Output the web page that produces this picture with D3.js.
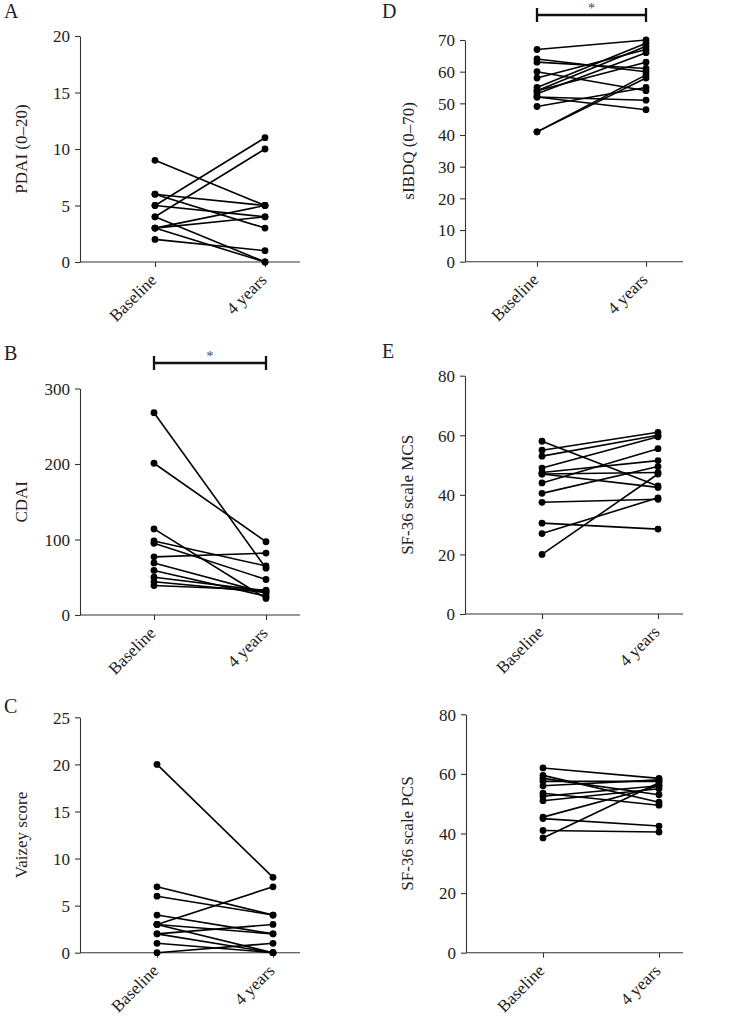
<!DOCTYPE html>
<html>
<head>
<meta charset="utf-8">
<script src="https://cdn.jsdelivr.net/npm/d3@7"></script>
<style>
  body { margin: 0; background: #fff; }
  svg text { font-family: "Liberation Serif", "DejaVu Serif", serif; fill: #222; }
</style>
</head>
<body>
<script>
const categories = ["Baseline", "4 years"];

// A: PDAI
const pdaiBase = [9, 6, 6, 5, 5, 4, 4, 3, 3, 3, 2];
const pdai4y   = [5, 5, 3, 11, 4, 10, 0, 5, 4, 0, 1];
const pdaiTicks = [0, 5, 10, 15, 20];

// B: CDAI
const cdaiBase = [268, 201, 114, 98, 95, 77, 69, 59, 50, 44, 39];
const cdai4y   = [62, 97, 22, 65, 47, 82, 29, 25, 32, 30, 33];
const cdaiTicks = [0, 100, 200, 300];

// C: Vaizey
const vaizeyBase = [20, 7, 6, 4, 3, 3, 3, 2, 2, 1, 0];
const vaizey4y   = [8, 4, 4, 2, 7, 0, 2, 3, 0, 0, 1];
const vaizeyTicks = [0, 5, 10, 15, 20, 25];

// D: sIBDQ
const ibdqBase = [67, 64, 63, 60, 58, 55, 54, 54, 53, 52, 52, 49, 41, 41];
const ibdq4y   = [70, 60, 61, 54, 67, 69, 68, 63, 66, 51, 48, 55, 59, 58];
const ibdqTicks = [0, 10, 20, 30, 40, 50, 60, 70];

// E: SF-36 MCS
const mcsBase = [58, 55, 53, 49, 47.5, 47, 47, 44, 40.5, 37.5, 30.5, 27, 20];
const mcs4y   = [43, 61, 60, 59.5, 51.5, 47.5, 42.5, 55.5, 49.5, 38.5, 28.5, 39, 47];
const mcsTicks = [0, 20, 40, 60, 80];

// SF-36 PCS
const pcsBase = [62, 59.5, 58.5, 57.5, 56, 53.5, 52.5, 51, 45.5, 45, 41, 38.5];
const pcs4y   = [58.5, 50.5, 53, 57.5, 58, 49.5, 56, 55, 56, 42.5, 40.5, 57];
const pcsTicks = [0, 20, 40, 60, 80];

const width = 738;
const height = 1017;

const panels = [
  { letter: "A", label: "PDAI (0\u201320)", base: pdaiBase, after: pdai4y, ticks: pdaiTicks,
    ax: 80, right: 300, y0: 262, yTop: 36, px: [155, 265], lx: 27, sig: null, letterY: 18 },
  { letter: "B", label: "CDAI", base: cdaiBase, after: cdai4y, ticks: cdaiTicks,
    ax: 80, right: 300, y0: 615, yTop: 388.5, px: [154, 266], lx: 27, sig: 363, letterY: 360 },
  { letter: "C", label: "Vaizey score", base: vaizeyBase, after: vaizey4y, ticks: vaizeyTicks,
    ax: 80, right: 300, y0: 952.7, yTop: 717.3, px: [157, 273], lx: 27, sig: null, letterY: 713 },
  { letter: "D", label: "sIBDQ (0\u201370)", base: ibdqBase, after: ibdq4y, ticks: ibdqTicks,
    ax: 465, right: 683, y0: 261.7, yTop: 40, px: [537, 646], lx: 414, sig: 15, letterY: 18 },
  { letter: "E", label: "SF-36 scale MCS", base: mcsBase, after: mcs4y, ticks: mcsTicks,
    ax: 465, right: 683, y0: 614, yTop: 375.7, px: [542, 658], lx: 413, sig: null, letterY: 358 },
  { letter: "", label: "SF-36 scale PCS", base: pcsBase, after: pcs4y, ticks: pcsTicks,
    ax: 466, right: 683, y0: 952.7, yTop: 714.3, px: [543, 659], lx: 413, sig: null, letterY: 0 }
];

const svg = d3.select("body")
  .append("svg")
  .attr("width", width)
  .attr("height", height);

panels.forEach(function(p) {
  const g = svg.append("g");

  const yScale = d3.scaleLinear()
    .domain([0, d3.max(p.ticks)])
    .range([p.y0, p.yTop]);

  const xScale = d3.scalePoint()
    .domain(categories)
    .range(p.px);

  // y axis
  const yAxis = d3.axisLeft(yScale)
    .tickValues(p.ticks)
    .tickSize(5)
    .tickPadding(5)
    .tickSizeOuter(0);
  const yg = g.append("g")
    .attr("transform", `translate(${p.ax}, 0)`)
    .call(yAxis);
  yg.selectAll("text").style("font-size", "17px").attr("dy", "0.34em");
  yg.selectAll("line, path").attr("stroke", "#333").attr("stroke-width", 1.1);

  // x axis
  const xAxis = d3.axisBottom(xScale)
    .tickSize(5)
    .tickSizeOuter(0);
  const xg = g.append("g")
    .attr("transform", `translate(0, ${p.y0})`)
    .call(xAxis);
  xg.select(".domain").attr("d", `M${p.ax},0H${p.right}`);
  xg.selectAll("line, path").attr("stroke", "#333").attr("stroke-width", 1.1);
  xg.selectAll("text")
    .style("font-size", "17px")
    .attr("text-anchor", "end")
    .attr("x", -12)
    .attr("y", 9)
    .attr("dy", "0.35em")
    .attr("transform", "rotate(-45)");

  // y label
  g.append("text")
    .attr("transform", `translate(${p.lx}, ${(p.y0 + p.yTop) / 2}) rotate(-90)`)
    .attr("text-anchor", "middle")
    .style("font-size", "17px")
    .text(p.label);

  // panel letter
  if (p.letter) {
    g.append("text")
      .attr("x", p.ax < 200 ? 4 : 382)
      .attr("y", p.letterY)
      .style("font-size", "20px")
      .text(p.letter);
  }

  // subject lines
  const pairs = p.base.map(function(v, i) { return [v, p.after[i]]; });
  const line = d3.line()
    .x(function(d, i) { return xScale(categories[i]); })
    .y(function(d) { return yScale(d); });

  g.append("g")
    .selectAll("path")
    .data(pairs)
    .enter()
    .append("path")
    .attr("d", line)
    .attr("fill", "none")
    .attr("stroke", "#000")
    .attr("stroke-width", 1.6);

  // dots
  categories.forEach(function(c, ci) {
    g.append("g")
      .selectAll("circle")
      .data(ci === 0 ? p.base : p.after)
      .enter()
      .append("circle")
      .attr("cx", xScale(c))
      .attr("cy", function(d) { return yScale(d); })
      .attr("r", 3.4)
      .attr("fill", "#000");
  });

  // significance bar
  if (p.sig !== null) {
    const x1 = xScale(categories[0]);
    const x2 = xScale(categories[1]);
    const sg = g.append("g").attr("stroke", "#111").attr("stroke-width", 2.3);
    sg.append("line").attr("x1", x1).attr("x2", x2).attr("y1", p.sig).attr("y2", p.sig);
    sg.append("line").attr("x1", x1).attr("x2", x1).attr("y1", p.sig - 7).attr("y2", p.sig + 7);
    sg.append("line").attr("x1", x2).attr("x2", x2).attr("y1", p.sig - 7).attr("y2", p.sig + 7);
    g.append("text")
      .attr("x", (x1 + x2) / 2)
      .attr("y", p.sig - 2)
      .attr("text-anchor", "middle")
      .style("font-size", "14px")
      .style("fill", "#444")
      .text("*");
  }
});
</script>
</body>
</html>
